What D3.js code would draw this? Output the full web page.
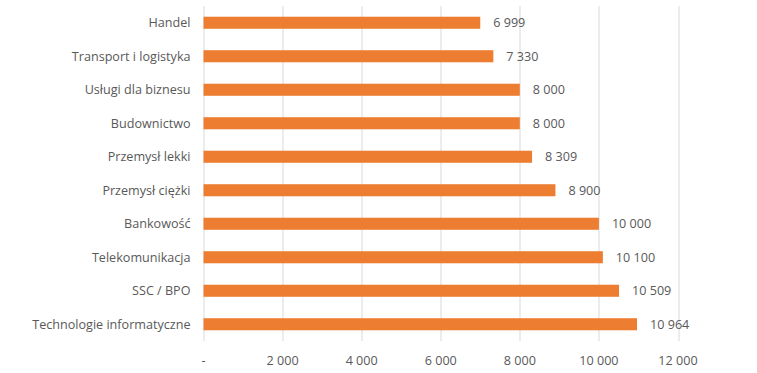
<!DOCTYPE html>
<html>
<head>
<meta charset="utf-8">
<script src="https://cdn.jsdelivr.net/npm/d3@7"></script>
<style>
  body { margin: 0; background: #fff; }
  text { font-family: "Open Sans", "Noto Sans", sans-serif; fill: #595959; }
</style>
</head>
<body>
<svg id="chart" width="757" height="373"></svg>
<script>
const categories = ["Handel", "Transport i logistyka", "Usługi dla biznesu", "Budownictwo",
  "Przemysł lekki", "Przemysł ciężki", "Bankowość", "Telekomunikacja", "SSC / BPO",
  "Technologie informatyczne"];
const values = [6999, 7330, 8000, 8000, 8309, 8900, 10000, 10100, 10509, 10964];
const tickValues = [0, 2000, 4000, 6000, 8000, 10000, 12000];

const fmt = v => v === 0 ? "-" : d3.format(",")(v).replace(/,/g, " ");

const svg = d3.select("#chart");
const margin = { top: 6, right: 79, bottom: 32, left: 203.5 };
const width = 757 - margin.left - margin.right;
const height = 373 - margin.top - margin.bottom;

const g = svg.append("g")
  .attr("transform", "translate(" + margin.left + "," + margin.top + ")");

const x = d3.scaleLinear().domain([0, 12000]).range([0, width]);
const y = d3.scaleBand().domain(categories).range([0, height]).paddingInner(0.64).paddingOuter(0.32);

// gridlines
g.selectAll("line.grid")
  .data(tickValues)
  .enter().append("line")
  .attr("class", "grid")
  .attr("x1", d => Math.round(x(d)) + 0.5)
  .attr("x2", d => Math.round(x(d)) + 0.5)
  .attr("y1", 0)
  .attr("y2", height)
  .attr("stroke", "#d9d9d9")
  .attr("stroke-width", 1);

// bars
g.selectAll("rect.bar")
  .data(values)
  .enter().append("rect")
  .attr("class", "bar")
  .attr("x", x(0))
  .attr("y", (d, i) => y(categories[i]))
  .attr("width", d => x(d) - x(0))
  .attr("height", y.bandwidth())
  .attr("fill", "#ed7d31");

// value labels
g.selectAll("text.val")
  .data(values)
  .enter().append("text")
  .attr("class", "val")
  .attr("x", d => x(d) + 13)
  .attr("y", (d, i) => y(categories[i]) + y.bandwidth() / 2)
  .attr("dy", "0.35em")
  .style("font-size", "12.6px")
  .text(d => fmt(d));

// category labels
g.selectAll("text.cat")
  .data(categories)
  .enter().append("text")
  .attr("class", "cat")
  .attr("x", -13)
  .attr("y", d => y(d) + y.bandwidth() / 2)
  .attr("dy", "0.35em")
  .attr("text-anchor", "end")
  .style("font-size", "12.6px")
  .text(d => d);

// x tick labels
g.selectAll("text.tick")
  .data(tickValues)
  .enter().append("text")
  .attr("class", "tick")
  .attr("x", d => x(d))
  .attr("y", height + 20)
  .attr("dy", "0.35em")
  .attr("text-anchor", "middle")
  .style("font-size", "12.6px")
  .text(d => fmt(d));
</script>
</body>
</html>
